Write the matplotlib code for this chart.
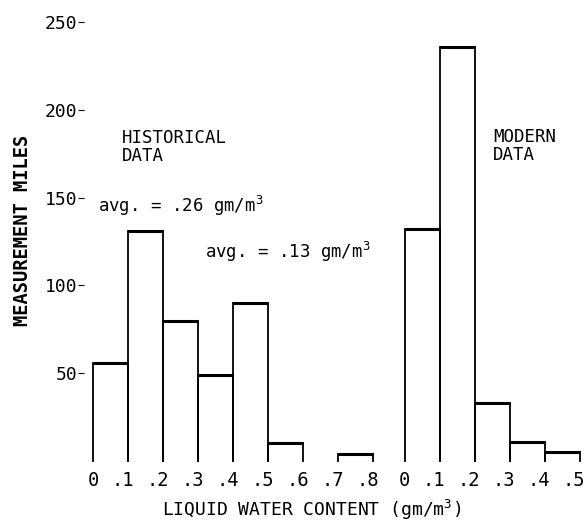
import numpy as np
import matplotlib
matplotlib.use("Agg")
import matplotlib.pyplot as plt
import matplotlib.transforms as mtransforms

# ── Data ──────────────────────────────────────────────────────────────────────
hist_edges = [0.0, 0.1, 0.2, 0.3, 0.4, 0.5, 0.6, 0.7, 0.8]
hist_miles = [56, 131, 80, 49, 90, 10, 0, 4]

modern_edges = [0.0, 0.1, 0.2, 0.3, 0.4, 0.5]
modern_miles = [132, 236, 33, 11, 5]

hist_ticklabels = ["0", ".1", ".2", ".3", ".4", ".5", ".6", ".7", ".8"]
modern_ticklabels = ["0", ".1", ".2", ".3", ".4", ".5"]

y_ticks = [50, 100, 150, 200, 250]

MODERN_OFFSET = 0.89   # where the second panel's zero sits on the shared axis

# typewriter-like lettering of the original
plt.rcParams["font.family"] = ["DejaVu Sans Mono", "DejaVu Sans"]
plt.rcParams["mathtext.default"] = "regular"

fig = plt.figure(figsize=(5.84, 5.25), dpi=100)
ax = fig.add_axes([84 / 584, 1 - 461 / 525, (582 - 84) / 584, (461 - 22) / 525])


def draw_bars(edges, values, offset):
    # open-bottom boxes: thin sides, heavier top
    for x0, x1, h in zip(edges[:-1], edges[1:], values):
        if h <= 0:
            continue
        a, b = x0 + offset, x1 + offset
        ax.plot([a, a, b, b], [0, h, h, 0], color="black", lw=1.3,
                solid_joinstyle="miter", clip_on=False)
        ax.plot([a, b], [h, h], color="black", lw=2.2, clip_on=False,
                solid_capstyle="butt")


draw_bars(hist_edges, hist_miles, 0.0)
draw_bars(modern_edges, modern_miles, MODERN_OFFSET)

ax.set_xlim(-0.026, 1.397)
ax.set_ylim(0, 250)

xt = list(hist_edges) + [e + MODERN_OFFSET for e in modern_edges]
ax.set_xticks(xt)
ax.set_xticklabels(hist_ticklabels + modern_ticklabels, fontsize=13.5)
ax.tick_params(axis="x", length=0, pad=7)
# digits sit on the bin edge, the leading point hangs to the left
shift = mtransforms.ScaledTranslation(-5.5 / 100, 0, fig.dpi_scale_trans)
for lab in ax.get_xticklabels():
    if lab.get_text().startswith("."):
        lab.set_transform(lab.get_transform() + shift)

ax.set_yticks(y_ticks)
ax.set_yticklabels([str(v) for v in y_ticks], fontsize=13)
ax.tick_params(axis="y", length=4, width=0.8, direction="out", pad=1)

for s in ax.spines.values():
    s.set_visible(False)

# ── Annotations ───────────────────────────────────────────────────────────────
ax.text((122 - 93) / 350, (461 - 147) / 1.756, "HISTORICAL\nDATA",
        fontsize=12.5, va="center", ha="left", linespacing=1.05)
ax.text((493 - 93) / 350, (461 - 146) / 1.756, "MODERN\nDATA",
        fontsize=12.5, va="center", ha="left", linespacing=1.05)
ax.text((98 - 93) / 350, (461 - 206) / 1.756, "avg. = .26 gm/m$^3$",
        fontsize=12.5, va="center", ha="left")
ax.text((205 - 93) / 350, (461 - 252) / 1.756, "avg. = .13 gm/m$^3$",
        fontsize=12.5, va="center", ha="left")

fig.text(23 / 584, 1 - 230 / 525, "MEASUREMENT MILES", rotation=90,
         fontsize=13.5, fontweight="bold", ha="center", va="center")
fig.text(312 / 584, 1 - 510 / 525, "LIQUID WATER CONTENT (gm/m$^3$)",
         fontsize=13, ha="center", va="center")

fig.savefig("out.png", dpi=100, facecolor="white")
